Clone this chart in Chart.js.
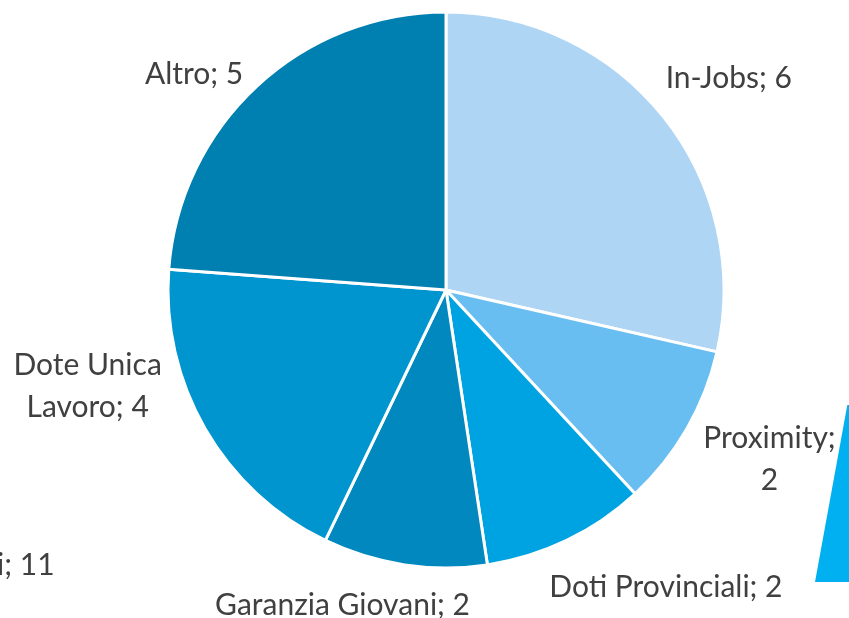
<!DOCTYPE html>
<html>
<head>
<meta charset="utf-8">
<script src="https://cdn.jsdelivr.net/npm/chart.js@4.4.1/dist/chart.umd.min.js"></script>
<style>
    html, body { margin: 0; padding: 0; background: #ffffff; overflow: hidden; }
    #wrap { position: relative; width: 849px; height: 618px; }
    #Chart1 { position: absolute; left: 0; top: 0; }
    /* pieces of the neighbouring chart that the crop cuts through */
    #sideLabel { position: absolute; left: -3px; top: 545px; font: 30px Lato, sans-serif; color: #404040; }
    #sidePiece { position: absolute; left: 815px; top: 405px; width: 34px; height: 177px;
        background: #00b0f0; clip-path: polygon(100% 0, 100% 100%, 0 100%, 95% 0); }
</style>
</head>
<body>
<div id="wrap">
    <canvas id="Chart1" width="849" height="618"></canvas>
    <div id="sideLabel">i; 11</div>
    <div id="sidePiece"></div>
</div>
<script>
const categories = ["In-Jobs", "Proximity", "Doti Provinciali", "Garanzia Giovani", "Dote Unica Lavoro", "Altro"];
const values = [6, 2, 2, 2, 4, 5];
const sliceColors = ["#afd5f5", "#69bef1", "#00a3e1", "#0088bf", "#0095cf", "#007fb1"];

// Outside labels "Name; value", wrapped when they would run off the canvas
const outsideLabels = {
    id: "outsideLabels",
    afterDatasetsDraw(chart, args, opts) {
        const ctx = chart.ctx;
        const arcs = chart.getDatasetMeta(0).data;
        const lineHeight = 42;
        ctx.save();
        ctx.font = "30px Lato, sans-serif";
        ctx.fillStyle = "#404040";
        ctx.textAlign = "center";
        ctx.textBaseline = "middle";
        arcs.forEach((arc, i) => {
            const mid = (arc.startAngle + arc.endAngle) / 2;
            const r = arc.outerRadius + 27;
            const ax = arc.x + Math.cos(mid) * r;
            const ay = arc.y + Math.sin(mid) * r;

            // Wrap words to the room left before the edge
            const room = Math.cos(mid) > 0 ? chart.width - ax - 2 : ax - 2;
            const words = (categories[i] + "; " + values[i]).split(" ");
            const lines = [];
            let line = "";
            words.forEach(w => {
                const test = line ? line + " " + w : w;
                if (line && ctx.measureText(test).width > room) {
                    lines.push(line);
                    line = w;
                } else {
                    line = test;
                }
            });
            lines.push(line);

            const w = Math.max(...lines.map(l => ctx.measureText(l).width));
            const h = lines.length * lineHeight;
            const nudge = opts.nudge[i] || [0, 0];
            const cx = ax + Math.cos(mid) * w / 2 + nudge[0];
            const cy = ay + Math.sin(mid) * h / 2 + nudge[1];
            lines.forEach((l, k) => {
                ctx.fillText(l, cx, cy - h / 2 + lineHeight * (k + 0.5));
            });
        });
        ctx.restore();
    }
};

new Chart(document.getElementById("Chart1").getContext("2d"), {
    type: "pie",
    data: {
        labels: categories,
        datasets: [{
            data: values,
            backgroundColor: sliceColors,
            borderColor: "#ffffff",
            borderWidth: 3,
        }]
    },
    options: {
        responsive: false,
        animation: false,
        layout: {
            padding: {
                left: 166.5,
                right: 123.5,
                top: 10.5,
                bottom: 48.5,
            }
        },
        plugins: {
            legend: { display: false },
            tooltip: { enabled: false },
            // hand placement of the labels, as in the original slide
            outsideLabels: {
                nudge: [[-5, -8], [2, -4], [37, 4], [-39, -7], [-30, -77], [-11, 23]],
            },
        }
    },
    plugins: [outsideLabels]
});
</script>
</body>
</html>
